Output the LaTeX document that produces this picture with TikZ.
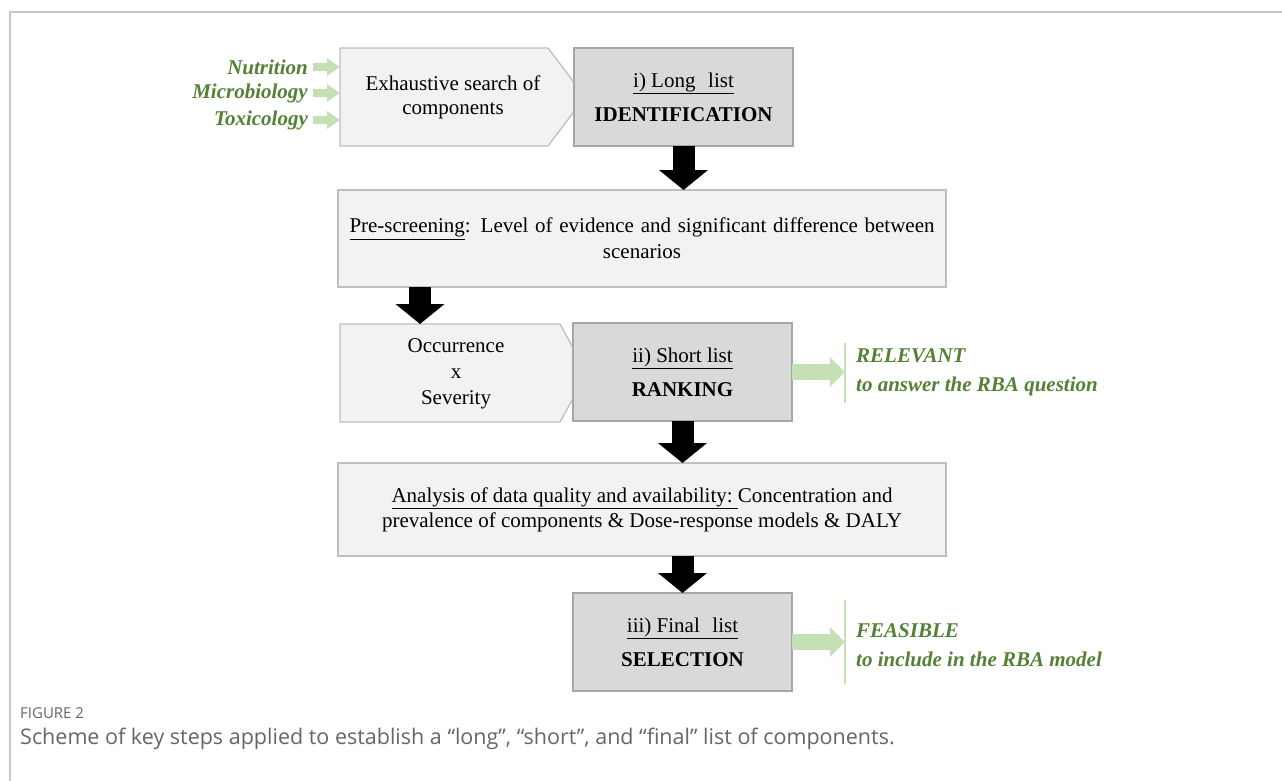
\documentclass[tikz,border=0pt]{standalone}
\usepackage{fontspec}
\setmainfont{Liberation Serif}
\newfontfamily\capfont{Open Sans}
\usetikzlibrary{calc,arrows.meta}

\definecolor{lightbox}{HTML}{F2F2F2}
\definecolor{darkbox}{HTML}{D9D9D9}
\definecolor{lineA}{HTML}{BFBFBF}
\definecolor{lineB}{HTML}{A6A6A6}
\definecolor{leaf}{HTML}{538135}
\definecolor{paleleaf}{HTML}{C5E0B4}
\definecolor{framegray}{HTML}{C8C8C8}
\definecolor{captext}{HTML}{666666}

\tikzset{
  txt/.style={font=\fontsize{21}{24}\selectfont, align=center, inner sep=0pt},
  body/.style={rectangle, inner sep=0pt, outer sep=0pt},
  lightstep/.style={fill=lightbox, draw=lineA, line width=1.3pt},
  liststep/.style={body, fill=darkbox, draw=lineB, line width=1.3pt, txt,
    minimum width=219, minimum height=98},
  widestep/.style={body, fill=lightbox, draw=lineA, line width=1.3pt, txt,
    minimum width=608},
  greenlbl/.style={text=leaf, font=\fontsize{21}{24}\selectfont\bfseries\itshape, inner sep=0pt},
  blockdown/.style={line width=22pt, -{Triangle[width=48pt,length=20pt]}},
  greenflow/.style={paleleaf, line width=16pt, -{Triangle[width=29pt,length=15pt]}},
  smallflow/.style={paleleaf, line width=8pt, -{Triangle[width=17pt,length=13pt]}},
  greenbar/.style={paleleaf, line width=1.5pt},
}

\begin{document}
\begin{tikzpicture}[x=1pt,y=-1pt]
\useasboundingbox[fill=white] (0,0) rectangle (1282,781);
% page frame
\draw[framegray, line width=2pt] (10,781) -- (10,12) -- (1282,12);

% --- step i: exhaustive search -> long list
\node[body, minimum width=208, minimum height=98] (searchbody) at (444,97) {};
\draw[lightstep] (searchbody.north west) -- (searchbody.north east)
  -- ($(searchbody.east)+(37,0)$) -- (searchbody.south east)
  -- (searchbody.south west) -- cycle;
\node[txt] (search) at (453,97) {Exhaustive search of\\components};

\node[liststep] (longlist) at (683.5,97)
  {\underline{i) Long\hspace{0.35em} list}\\[10pt]\textbf{IDENTIFICATION}};

% disciplines feeding the search
\node[greenlbl, anchor=east] (nutr) at (308,67) {Nutrition};
\node[greenlbl, anchor=east] (micro) at (308,93) {Microbiology};
\node[greenlbl, anchor=east] (toxi) at (308,120) {Toxicology};
\foreach \src in {nutr,micro,toxi}
  \draw[smallflow] ($(\src.east)+(5,0)$) -- (searchbody.west |- \src.east);

% --- pre-screening
\node[widestep, minimum height=97] (prescreen) at (642,238.5)
  {\makebox[585pt][s]{\underline{Pre-screening}: Level of evidence and significant difference between}\\[2pt]scenarios};
\draw[blockdown] (longlist.south) -- (prescreen.north -| longlist.south);

% --- step ii: occurrence x severity -> short list
\node[body, minimum width=220, minimum height=98] (occbody) at (450,373) {};
\draw[lightstep] (occbody.north west) -- (occbody.north east)
  -- ($(occbody.east)+(27,0)$) -- (occbody.south east)
  -- (occbody.south west) -- cycle;
\node[txt] (occ) at (456,374) {Occurrence\\[2pt]x\\[2pt]Severity};

\coordinate (drop2) at (420,0);
\draw[blockdown] (prescreen.south -| drop2) -- (occbody.north -| drop2);

\node[liststep] (shortlist) at (682.5,372)
  {\underline{ii) Short list}\\[10pt]\textbf{RANKING}};

\coordinate (relTop) at (845,343);
\coordinate (relBot) at (845,403);
\draw[greenbar] (relTop) -- (relBot);
\draw[greenflow] (shortlist.east) -- (shortlist.east -| relTop);
\node[greenlbl, anchor=west, align=left] (relevant) at (856,372.5)
  {RELEVANT\\[5pt]to answer the RBA question};

% --- data analysis
\node[widestep, minimum height=93] (analysis) at (642,509.5)
  {\underline{Analysis of data quality and availability:\ }Concentration and\\[1pt]
   prevalence of components \& Dose-response models \& DALY};
\draw[blockdown] (shortlist.south) -- (analysis.north -| shortlist.south);

% --- step iii: final list
\node[liststep] (finallist) at (682.5,642)
  {\underline{iii) Final\hspace{0.35em} list}\\[10pt]\textbf{SELECTION}};
\draw[blockdown] (analysis.south -| finallist.north) -- (finallist.north);

\coordinate (feaTop) at (845,600);
\coordinate (feaBot) at (845,684);
\draw[greenbar] (feaTop) -- (feaBot);
\draw[greenflow] (finallist.east) -- (finallist.east -| feaTop);
\node[greenlbl, anchor=west, align=left] (feasible) at (856,645)
  {FEASIBLE\\[5pt]to include in the RBA model};

% --- caption
\node[anchor=west, inner sep=0pt, text=captext, font=\capfont\fontsize{15}{17}\selectfont] (fig) at (20,713) {FIGURE 2};
\node[anchor=west, inner sep=0pt, text=captext, font=\capfont\fontsize{21.5}{24}\selectfont] (caption) at (20,739)
  {Scheme of key steps applied to establish a “long”, “short”, and “final” list of components.};
\end{tikzpicture}
\end{document}
